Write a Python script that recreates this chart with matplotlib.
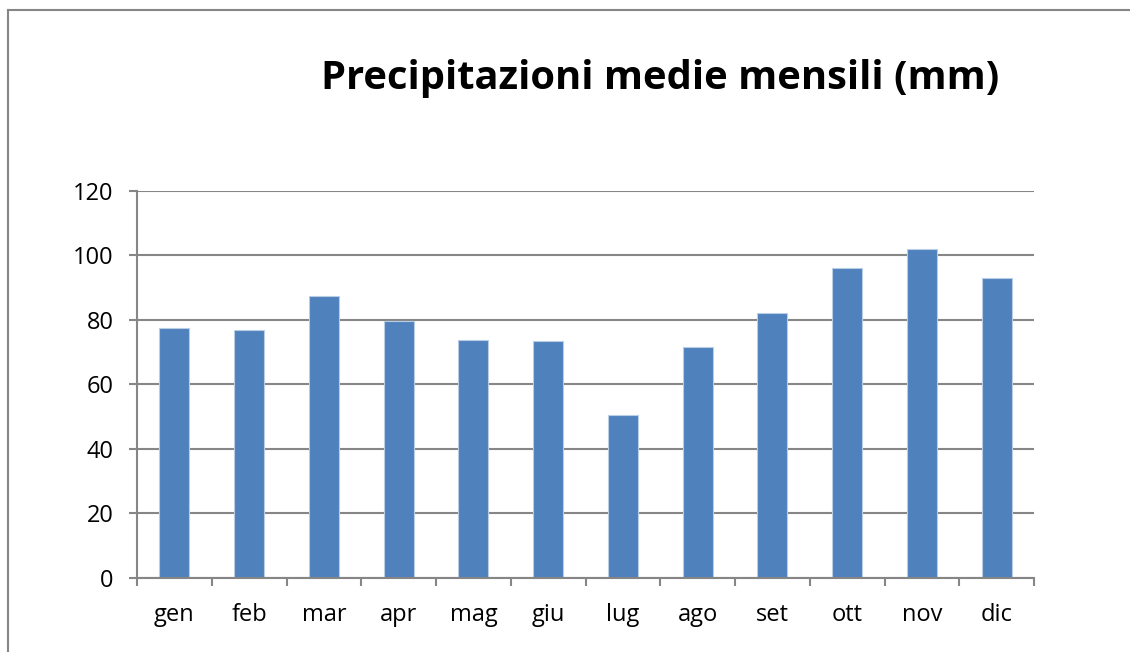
import matplotlib
matplotlib.use('Agg')
import matplotlib.pyplot as plt
from matplotlib.lines import Line2D

# dati
mesi = ['gen', 'feb', 'mar', 'apr', 'mag', 'giu', 'lug', 'ago', 'set', 'ott', 'nov', 'dic']
precipitazioni = [77.4, 76.8, 87.3, 79.7, 73.8, 73.5, 50.5, 71.6, 82.0, 96.1, 102.0, 92.9]
y_ticks = [0, 20, 40, 60, 80, 100, 120]
titolo = 'Precipitazioni medie mensili (mm)'

plt.rcParams['font.family'] = ['Open Sans', 'DejaVu Sans']

GRIGIO = '#868686'
BLU = '#4F81BD'

fig = plt.figure(figsize=(11.3, 6.52), dpi=100)
ax = fig.add_axes([137 / 1130, 1 - 578 / 652, 897 / 1130, 387.3 / 652])

x = list(range(len(mesi)))
ax.bar(x, precipitazioni, width=0.4, color=BLU, edgecolor='#B9CDE5', linewidth=0.8, zorder=3)

ax.set_xlim(-0.5, len(mesi) - 0.5)
ax.set_ylim(0, 120)
ax.set_yticks(y_ticks)
ax.set_yticklabels([str(v) for v in y_ticks], fontsize=17)
ax.yaxis.grid(True, color=GRIGIO, linewidth=1.5, zorder=0)

# tacche sui confini delle categorie, etichette al centro
ax.set_xticks([i - 0.5 for i in range(len(mesi) + 1)])
ax.set_xticklabels([])
ax.set_xticks(x, minor=True)
ax.set_xticklabels(mesi, minor=True, fontsize=17)
ax.tick_params(axis='x', which='major', length=6, width=1.5, color=GRIGIO, direction='out')
ax.tick_params(axis='x', which='minor', length=0, pad=18)
ax.tick_params(axis='y', length=6, width=1.5, color=GRIGIO, pad=11)

for s in ['top', 'right']:
    ax.spines[s].set_visible(False)
for s in ['left', 'bottom']:
    ax.spines[s].set_color(GRIGIO)
    ax.spines[s].set_linewidth(1.5)
    ax.spines[s].set_zorder(4)

fig.text(660 / 1130, 1 - 78 / 652, titolo, ha='center', va='center',
         fontsize=28.7, fontweight='bold')

# bordo del grafico (solo sinistra e alto visibili)
fig.add_artist(Line2D([8 / 1130, 8 / 1130], [0, 1 - 10 / 652], transform=fig.transFigure,
                      color=GRIGIO, linewidth=1.5))
fig.add_artist(Line2D([8 / 1130, 1], [1 - 10 / 652, 1 - 10 / 652], transform=fig.transFigure,
                      color=GRIGIO, linewidth=1.5))

fig.savefig('out.png', dpi=100)
